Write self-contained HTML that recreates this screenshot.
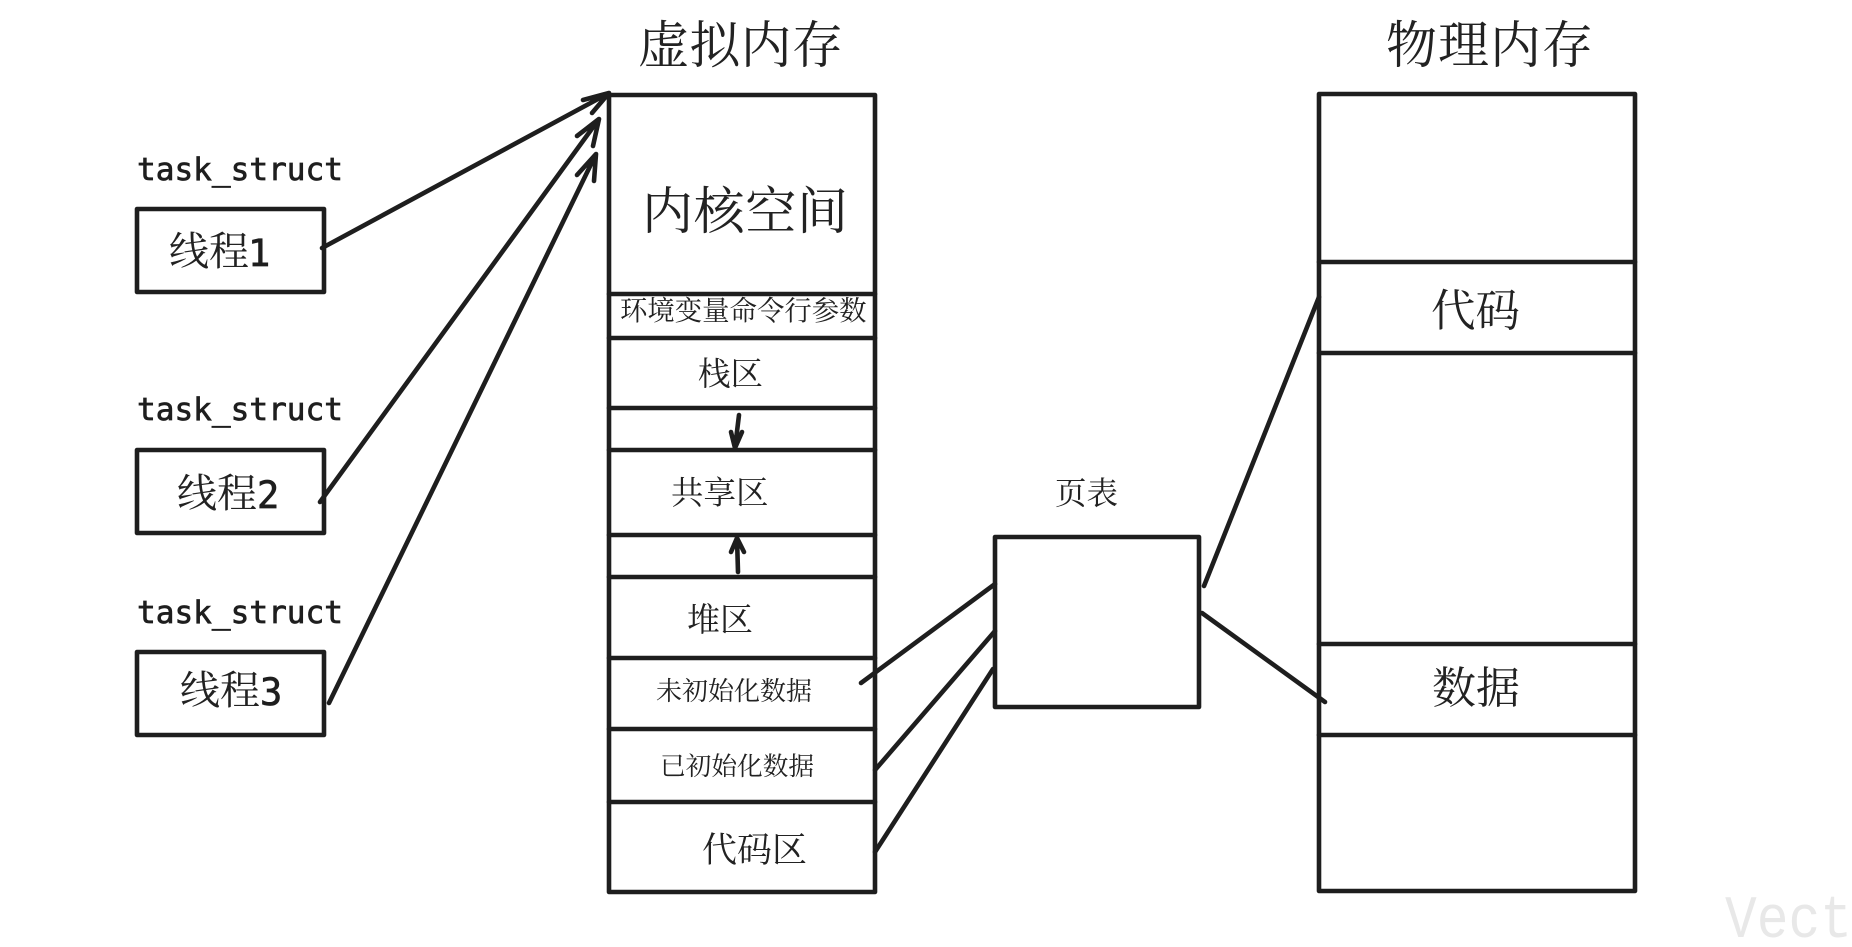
<!DOCTYPE html>
<html lang="zh"><head><meta charset="utf-8"><title>虚拟内存与物理内存</title>
<style>
html,body{margin:0;padding:0;background:#fff;width:1852px;height:947px;overflow:hidden}
svg{display:block}
.c{font-family:"Liberation Serif","Noto Serif CJK SC",serif;fill:#222}
.m{font-family:"DejaVu Sans Mono","Liberation Mono",monospace;fill:#1e1e1e;stroke:#1e1e1e;stroke-width:.7}
.s{fill:none;stroke:#1e1e1e;stroke-width:4.6;stroke-linecap:round;stroke-linejoin:round}
</style></head><body>
<svg width="1852" height="947" viewBox="0 0 1852 947" xmlns="http://www.w3.org/2000/svg">
<g class="s">
<rect x="137" y="209" width="187" height="83"/>
<rect x="137" y="450" width="187" height="83"/>
<rect x="137" y="652" width="187" height="83"/>
<rect x="609" y="95" width="266" height="797"/>
<path d="M609 294H875M609 338H875M609 408H875M609 450H875M609 535H875M609 577H875M609 658H875M609 729H875M609 802H875"/>
<rect x="995" y="537" width="204" height="170"/>
<rect x="1319" y="94" width="316" height="797"/>
<path d="M1319 262H1635M1319 353H1635M1319 644H1635M1319 735H1635"/>
<path d="M322 248L609 93M583 100L609 93L592 113"/>
<path d="M320 502L599 119M577 136L599 119L593 146"/>
<path d="M329 703L596 154M577 175L596 154L594 181"/>
<path d="M739 415L735 448M731 432L735 448L742 432"/>
<path d="M738 572L737 538M731 552L737 538L744 552"/>
<path d="M861 683L995 584M875 770L995 631M875 852L993 669M1204 586L1319 297M1202 613L1325 702"/>
</g>
<g class="m" font-size="31">
<text x="137" y="180" textLength="206" lengthAdjust="spacingAndGlyphs">task_struct</text>
<text x="137" y="420" textLength="206" lengthAdjust="spacingAndGlyphs">task_struct</text>
<text x="137" y="623" textLength="206" lengthAdjust="spacingAndGlyphs">task_struct</text>
</g>
<g class="c" font-size="40">
<text x="169" y="265">线程</text><text x="177" y="507">线程</text><text x="180" y="704">线程</text>
</g>
<g class="m" font-size="37">
<text x="248" y="266">1</text><text x="257" y="508">2</text><text x="260" y="705">3</text>
</g>
<g class="c">
<text x="638" y="63" font-size="51" textLength="205" lengthAdjust="spacing">虚拟内存</text>
<text x="1386" y="63" font-size="51" textLength="207" lengthAdjust="spacing">物理内存</text>
<text x="642" y="229" font-size="51" textLength="206" lengthAdjust="spacing">内核空间</text>
<text x="620" y="320" font-size="27.4">环境变量命令行参数</text>
<text x="698" y="385" font-size="32.5">栈区</text>
<text x="671" y="504" font-size="32.5">共享区</text>
<text x="687" y="631" font-size="33">堆区</text>
<text x="656" y="700" font-size="26">未初始化数据</text>
<text x="660" y="775" font-size="25.7">已初始化数据</text>
<text x="702" y="862" font-size="35">代码区</text>
<text x="1055" y="504" font-size="31.5">页表</text>
<text x="1431" y="326" font-size="44.5">代码</text>
<text x="1432" y="703" font-size="44">数据</text>
</g>
<text x="1725" y="937" font-family="'Liberation Mono',monospace" font-size="60" fill="#e8e8e8" textLength="127" lengthAdjust="spacingAndGlyphs">Vect</text>
</svg>
</body></html>
